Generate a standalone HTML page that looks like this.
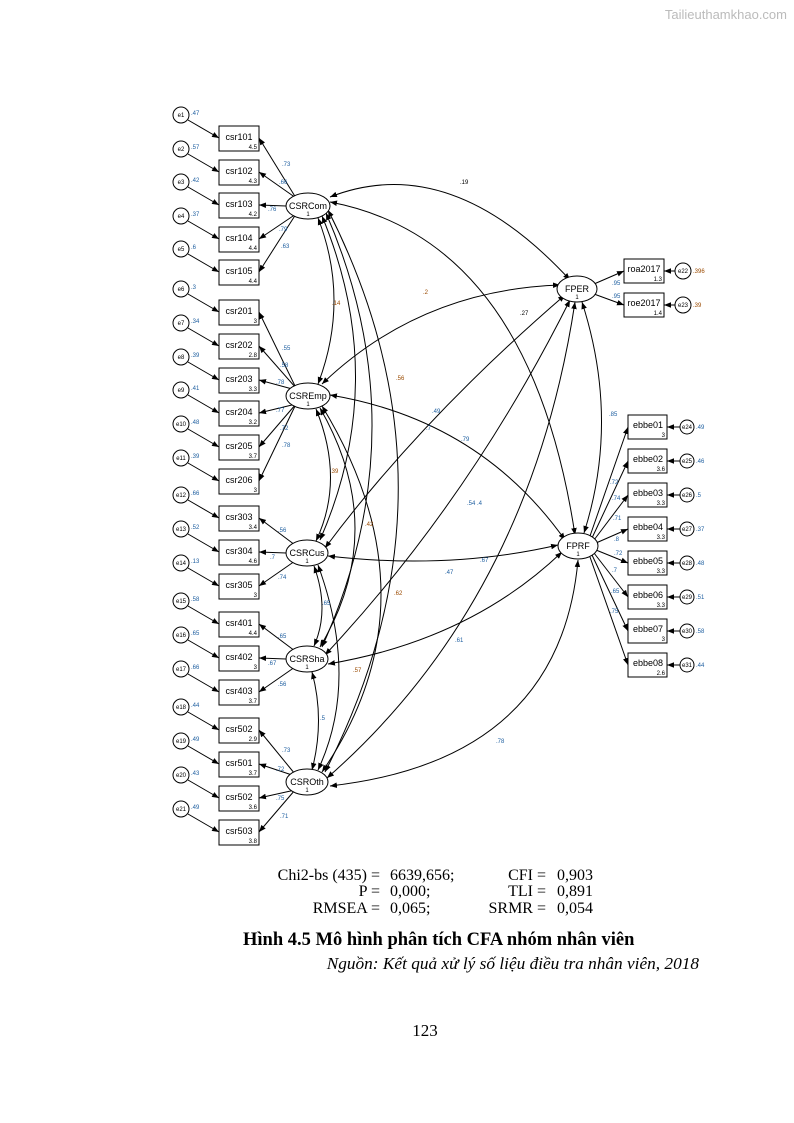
<!DOCTYPE html>
<html><head><meta charset="utf-8"><style>
body{margin:0;background:#fff}
svg{display:block}
rect,circle{fill:#fff;stroke:#000}
line{stroke:#000}
.t{font-family:"Liberation Sans",sans-serif;font-size:9px;fill:#000}
.s{font-family:"Liberation Sans",sans-serif;font-size:6px;fill:#000}
.b{fill:#1f5fa0}.o{fill:#9a4a00}
.tm{font-family:"Liberation Serif",serif;font-size:16px;fill:#000}
</style></head><body>
<svg width="794" height="1123" viewBox="0 0 794 1123" xmlns="http://www.w3.org/2000/svg">
<defs><marker id="a" viewBox="0 0 10 10" refX="10" refY="5" markerWidth="7" markerHeight="7" orient="auto-start-reverse"><path d="M0,1L10,5L0,9z" fill="#000"/></marker></defs>
<text x="787" y="19" text-anchor="end" font-family="Liberation Sans,sans-serif" font-size="13" fill="#bbb">Tailieuthamkhao.com</text>
<g fill="none" stroke="#000" stroke-width="1" marker-start="url(#a)" marker-end="url(#a)">
<path d="M330,197 Q450,150 570,280"/>
<path d="M330,202 Q530,240 575,535"/>
<path d="M318,218 Q350,300 318,384"/>
<path d="M322,216 Q390,380 320,540"/>
<path d="M326,213 Q420,430 322,647"/>
<path d="M328,210 Q470,490 325,772"/>
<path d="M322,384 Q420,290 560,285"/>
<path d="M330,395 Q480,420 565,540"/>
<path d="M316,409 Q345,480 316,541"/>
<path d="M320,408 Q390,530 320,647"/>
<path d="M322,406 Q440,600 322,772"/>
<path d="M565,295 Q420,420 325,548"/>
<path d="M570,300 Q470,500 325,655"/>
<path d="M575,302 Q530,600 327,778"/>
<path d="M314,566 Q330,610 314,646"/>
<path d="M318,565 Q360,680 318,770"/>
<path d="M312,672 Q325,720 312,770"/>
<path d="M328,556 Q450,570 558,545"/>
<path d="M328,664 Q470,640 562,552"/>
<path d="M330,786 Q560,760 578,560"/>
<path d="M582,302 Q620,420 584,533"/>
</g>
<g>
<text x="460" y="184" class="s">.19</text><text x="520" y="315" class="s">.27</text>
<text x="332" y="305" class="s o">.14</text><text x="396" y="380" class="s o">.56</text>
<text x="365" y="526" class="s o">.42</text><text x="353" y="672" class="s o">.57</text>
<text x="423" y="294" class="s o">.2</text><text x="461" y="441" class="s b">.79</text>
<text x="330" y="473" class="s o">.39</text><text x="394" y="595" class="s o">.62</text>
<text x="432" y="413" class="s b">.49</text><text x="426" y="430" class="s b">.7</text>
<text x="445" y="574" class="s b">.47</text><text x="467" y="505" class="s b">.54 .4</text>
<text x="322" y="605" class="s b">.65</text><text x="320" y="720" class="s b">.5</text>
<text x="480" y="562" class="s b">.67</text><text x="455" y="642" class="s b">.61</text>
<text x="496" y="743" class="s b">.78</text><text x="609" y="416" class="s b">.85</text>
</g>

<g transform="translate(0,126)"><rect x="219" y="0" width="40" height="25"/><text x="239" y="14" class="t" text-anchor="middle">csr101</text><text x="257" y="23" class="s" text-anchor="end">4.5</text><circle cx="181" cy="-11" r="8"/><text x="181" y="-9" class="s" text-anchor="middle">e1</text><text x="191" y="-11" class="s b">.47</text><line x1="188" y1="-6" x2="219" y2="12" marker-end="url(#a)"/></g>
<g transform="translate(0,160)"><rect x="219" y="0" width="40" height="25"/><text x="239" y="14" class="t" text-anchor="middle">csr102</text><text x="257" y="23" class="s" text-anchor="end">4.3</text><circle cx="181" cy="-11" r="8"/><text x="181" y="-9" class="s" text-anchor="middle">e2</text><text x="191" y="-11" class="s b">.57</text><line x1="188" y1="-6" x2="219" y2="12" marker-end="url(#a)"/></g>
<g transform="translate(0,193)"><rect x="219" y="0" width="40" height="25"/><text x="239" y="14" class="t" text-anchor="middle">csr103</text><text x="257" y="23" class="s" text-anchor="end">4.2</text><circle cx="181" cy="-11" r="8"/><text x="181" y="-9" class="s" text-anchor="middle">e3</text><text x="191" y="-11" class="s b">.42</text><line x1="188" y1="-6" x2="219" y2="12" marker-end="url(#a)"/></g>
<g transform="translate(0,227)"><rect x="219" y="0" width="40" height="25"/><text x="239" y="14" class="t" text-anchor="middle">csr104</text><text x="257" y="23" class="s" text-anchor="end">4.4</text><circle cx="181" cy="-11" r="8"/><text x="181" y="-9" class="s" text-anchor="middle">e4</text><text x="191" y="-11" class="s b">.37</text><line x1="188" y1="-6" x2="219" y2="12" marker-end="url(#a)"/></g>
<g transform="translate(0,260)"><rect x="219" y="0" width="40" height="25"/><text x="239" y="14" class="t" text-anchor="middle">csr105</text><text x="257" y="23" class="s" text-anchor="end">4.4</text><circle cx="181" cy="-11" r="8"/><text x="181" y="-9" class="s" text-anchor="middle">e5</text><text x="191" y="-11" class="s b">.6</text><line x1="188" y1="-6" x2="219" y2="12" marker-end="url(#a)"/></g>
<g transform="translate(0,300)"><rect x="219" y="0" width="40" height="25"/><text x="239" y="14" class="t" text-anchor="middle">csr201</text><text x="257" y="23" class="s" text-anchor="end">3</text><circle cx="181" cy="-11" r="8"/><text x="181" y="-9" class="s" text-anchor="middle">e6</text><text x="191" y="-11" class="s b">.3</text><line x1="188" y1="-6" x2="219" y2="12" marker-end="url(#a)"/></g>
<g transform="translate(0,334)"><rect x="219" y="0" width="40" height="25"/><text x="239" y="14" class="t" text-anchor="middle">csr202</text><text x="257" y="23" class="s" text-anchor="end">2.8</text><circle cx="181" cy="-11" r="8"/><text x="181" y="-9" class="s" text-anchor="middle">e7</text><text x="191" y="-11" class="s b">.34</text><line x1="188" y1="-6" x2="219" y2="12" marker-end="url(#a)"/></g>
<g transform="translate(0,368)"><rect x="219" y="0" width="40" height="25"/><text x="239" y="14" class="t" text-anchor="middle">csr203</text><text x="257" y="23" class="s" text-anchor="end">3.3</text><circle cx="181" cy="-11" r="8"/><text x="181" y="-9" class="s" text-anchor="middle">e8</text><text x="191" y="-11" class="s b">.39</text><line x1="188" y1="-6" x2="219" y2="12" marker-end="url(#a)"/></g>
<g transform="translate(0,401)"><rect x="219" y="0" width="40" height="25"/><text x="239" y="14" class="t" text-anchor="middle">csr204</text><text x="257" y="23" class="s" text-anchor="end">3.2</text><circle cx="181" cy="-11" r="8"/><text x="181" y="-9" class="s" text-anchor="middle">e9</text><text x="191" y="-11" class="s b">.41</text><line x1="188" y1="-6" x2="219" y2="12" marker-end="url(#a)"/></g>
<g transform="translate(0,435)"><rect x="219" y="0" width="40" height="25"/><text x="239" y="14" class="t" text-anchor="middle">csr205</text><text x="257" y="23" class="s" text-anchor="end">3.7</text><circle cx="181" cy="-11" r="8"/><text x="181" y="-9" class="s" text-anchor="middle">e10</text><text x="191" y="-11" class="s b">.48</text><line x1="188" y1="-6" x2="219" y2="12" marker-end="url(#a)"/></g>
<g transform="translate(0,469)"><rect x="219" y="0" width="40" height="25"/><text x="239" y="14" class="t" text-anchor="middle">csr206</text><text x="257" y="23" class="s" text-anchor="end">3</text><circle cx="181" cy="-11" r="8"/><text x="181" y="-9" class="s" text-anchor="middle">e11</text><text x="191" y="-11" class="s b">.39</text><line x1="188" y1="-6" x2="219" y2="12" marker-end="url(#a)"/></g>
<g transform="translate(0,506)"><rect x="219" y="0" width="40" height="25"/><text x="239" y="14" class="t" text-anchor="middle">csr303</text><text x="257" y="23" class="s" text-anchor="end">3.4</text><circle cx="181" cy="-11" r="8"/><text x="181" y="-9" class="s" text-anchor="middle">e12</text><text x="191" y="-11" class="s b">.66</text><line x1="188" y1="-6" x2="219" y2="12" marker-end="url(#a)"/></g>
<g transform="translate(0,540)"><rect x="219" y="0" width="40" height="25"/><text x="239" y="14" class="t" text-anchor="middle">csr304</text><text x="257" y="23" class="s" text-anchor="end">4.6</text><circle cx="181" cy="-11" r="8"/><text x="181" y="-9" class="s" text-anchor="middle">e13</text><text x="191" y="-11" class="s b">.52</text><line x1="188" y1="-6" x2="219" y2="12" marker-end="url(#a)"/></g>
<g transform="translate(0,574)"><rect x="219" y="0" width="40" height="25"/><text x="239" y="14" class="t" text-anchor="middle">csr305</text><text x="257" y="23" class="s" text-anchor="end">3</text><circle cx="181" cy="-11" r="8"/><text x="181" y="-9" class="s" text-anchor="middle">e14</text><text x="191" y="-11" class="s b">.13</text><line x1="188" y1="-6" x2="219" y2="12" marker-end="url(#a)"/></g>
<g transform="translate(0,612)"><rect x="219" y="0" width="40" height="25"/><text x="239" y="14" class="t" text-anchor="middle">csr401</text><text x="257" y="23" class="s" text-anchor="end">4.4</text><circle cx="181" cy="-11" r="8"/><text x="181" y="-9" class="s" text-anchor="middle">e15</text><text x="191" y="-11" class="s b">.58</text><line x1="188" y1="-6" x2="219" y2="12" marker-end="url(#a)"/></g>
<g transform="translate(0,646)"><rect x="219" y="0" width="40" height="25"/><text x="239" y="14" class="t" text-anchor="middle">csr402</text><text x="257" y="23" class="s" text-anchor="end">3</text><circle cx="181" cy="-11" r="8"/><text x="181" y="-9" class="s" text-anchor="middle">e16</text><text x="191" y="-11" class="s b">.65</text><line x1="188" y1="-6" x2="219" y2="12" marker-end="url(#a)"/></g>
<g transform="translate(0,680)"><rect x="219" y="0" width="40" height="25"/><text x="239" y="14" class="t" text-anchor="middle">csr403</text><text x="257" y="23" class="s" text-anchor="end">3.7</text><circle cx="181" cy="-11" r="8"/><text x="181" y="-9" class="s" text-anchor="middle">e17</text><text x="191" y="-11" class="s b">.66</text><line x1="188" y1="-6" x2="219" y2="12" marker-end="url(#a)"/></g>
<g transform="translate(0,718)"><rect x="219" y="0" width="40" height="25"/><text x="239" y="14" class="t" text-anchor="middle">csr502</text><text x="257" y="23" class="s" text-anchor="end">2.9</text><circle cx="181" cy="-11" r="8"/><text x="181" y="-9" class="s" text-anchor="middle">e18</text><text x="191" y="-11" class="s b">.44</text><line x1="188" y1="-6" x2="219" y2="12" marker-end="url(#a)"/></g>
<g transform="translate(0,752)"><rect x="219" y="0" width="40" height="25"/><text x="239" y="14" class="t" text-anchor="middle">csr501</text><text x="257" y="23" class="s" text-anchor="end">3.7</text><circle cx="181" cy="-11" r="8"/><text x="181" y="-9" class="s" text-anchor="middle">e19</text><text x="191" y="-11" class="s b">.49</text><line x1="188" y1="-6" x2="219" y2="12" marker-end="url(#a)"/></g>
<g transform="translate(0,786)"><rect x="219" y="0" width="40" height="25"/><text x="239" y="14" class="t" text-anchor="middle">csr502</text><text x="257" y="23" class="s" text-anchor="end">3.6</text><circle cx="181" cy="-11" r="8"/><text x="181" y="-9" class="s" text-anchor="middle">e20</text><text x="191" y="-11" class="s b">.43</text><line x1="188" y1="-6" x2="219" y2="12" marker-end="url(#a)"/></g>
<g transform="translate(0,820)"><rect x="219" y="0" width="40" height="25"/><text x="239" y="14" class="t" text-anchor="middle">csr503</text><text x="257" y="23" class="s" text-anchor="end">3.8</text><circle cx="181" cy="-11" r="8"/><text x="181" y="-9" class="s" text-anchor="middle">e21</text><text x="191" y="-11" class="s b">.49</text><line x1="188" y1="-6" x2="219" y2="12" marker-end="url(#a)"/></g>

<g marker-end="url(#a)">
<line x1="296" y1="198" x2="259" y2="138"/><line x1="296" y1="198" x2="259" y2="172"/><line x1="286" y1="206" x2="259" y2="205"/><line x1="296" y1="214" x2="259" y2="239"/><line x1="296" y1="214" x2="259" y2="272"/>
<line x1="296" y1="388" x2="259" y2="312"/><line x1="296" y1="388" x2="259" y2="346"/><line x1="296" y1="390" x2="259" y2="380"/><line x1="296" y1="404" x2="259" y2="413"/><line x1="296" y1="404" x2="259" y2="447"/><line x1="296" y1="404" x2="259" y2="481"/>
<line x1="295" y1="545" x2="259" y2="518"/><line x1="286" y1="553" x2="259" y2="552"/><line x1="295" y1="561" x2="259" y2="586"/>
<line x1="295" y1="651" x2="259" y2="624"/><line x1="286" y1="659" x2="259" y2="658"/><line x1="295" y1="667" x2="259" y2="692"/>
<line x1="295" y1="774" x2="259" y2="730"/><line x1="295" y1="776" x2="259" y2="764"/><line x1="295" y1="790" x2="259" y2="798"/><line x1="295" y1="790" x2="259" y2="832"/>
</g>
<g class="s b">
<text x="282" y="166">.73</text><text x="279" y="184">.66</text><text x="268" y="211">.76</text><text x="279" y="231">.79</text><text x="281" y="248">.63</text>
<text x="282" y="350">.55</text><text x="280" y="367">.58</text><text x="276" y="384">.78</text><text x="276" y="412">.77</text><text x="280" y="430">.72</text><text x="282" y="447">.78</text>
<text x="278" y="532">.56</text><text x="270" y="559">.7</text><text x="278" y="579">.74</text>
<text x="278" y="638">.65</text><text x="268" y="665">.67</text><text x="278" y="686">.56</text>
<text x="282" y="752">.73</text><text x="276" y="771">.72</text><text x="276" y="800">.75</text><text x="280" y="818">.71</text>
</g>

<g transform="translate(624,259)"><rect x="0" y="0" width="40" height="24"/><text x="20" y="13" class="t" text-anchor="middle">roa2017</text><text x="38" y="22" class="s" text-anchor="end">1.3</text><circle cx="59" cy="12" r="8"/><text x="59" y="14" class="s" text-anchor="middle">e22</text><text x="69" y="14" class="s o">.396</text><line x1="51" y1="12" x2="40" y2="12" marker-end="url(#a)"/></g>
<g transform="translate(624,293)"><rect x="0" y="0" width="40" height="24"/><text x="20" y="13" class="t" text-anchor="middle">roe2017</text><text x="38" y="22" class="s" text-anchor="end">1.4</text><circle cx="59" cy="12" r="8"/><text x="59" y="14" class="s" text-anchor="middle">e23</text><text x="69" y="14" class="s o">.39</text><line x1="51" y1="12" x2="40" y2="12" marker-end="url(#a)"/></g>
<g transform="translate(628,415)"><rect x="0" y="0" width="39" height="24"/><text x="20" y="13" class="t" text-anchor="middle">ebbe01</text><text x="37" y="22" class="s" text-anchor="end">3</text><circle cx="59" cy="12" r="7"/><text x="59" y="14" class="s" text-anchor="middle">e24</text><text x="68" y="14" class="s b">.49</text><line x1="52" y1="12" x2="39" y2="12" marker-end="url(#a)"/></g>
<g transform="translate(628,449)"><rect x="0" y="0" width="39" height="24"/><text x="20" y="13" class="t" text-anchor="middle">ebbe02</text><text x="37" y="22" class="s" text-anchor="end">3.6</text><circle cx="59" cy="12" r="7"/><text x="59" y="14" class="s" text-anchor="middle">e25</text><text x="68" y="14" class="s b">.46</text><line x1="52" y1="12" x2="39" y2="12" marker-end="url(#a)"/></g>
<g transform="translate(628,483)"><rect x="0" y="0" width="39" height="24"/><text x="20" y="13" class="t" text-anchor="middle">ebbe03</text><text x="37" y="22" class="s" text-anchor="end">3.3</text><circle cx="59" cy="12" r="7"/><text x="59" y="14" class="s" text-anchor="middle">e26</text><text x="68" y="14" class="s b">.5</text><line x1="52" y1="12" x2="39" y2="12" marker-end="url(#a)"/></g>
<g transform="translate(628,517)"><rect x="0" y="0" width="39" height="24"/><text x="20" y="13" class="t" text-anchor="middle">ebbe04</text><text x="37" y="22" class="s" text-anchor="end">3.3</text><circle cx="59" cy="12" r="7"/><text x="59" y="14" class="s" text-anchor="middle">e27</text><text x="68" y="14" class="s b">.37</text><line x1="52" y1="12" x2="39" y2="12" marker-end="url(#a)"/></g>
<g transform="translate(628,551)"><rect x="0" y="0" width="39" height="24"/><text x="20" y="13" class="t" text-anchor="middle">ebbe05</text><text x="37" y="22" class="s" text-anchor="end">3.3</text><circle cx="59" cy="12" r="7"/><text x="59" y="14" class="s" text-anchor="middle">e28</text><text x="68" y="14" class="s b">.48</text><line x1="52" y1="12" x2="39" y2="12" marker-end="url(#a)"/></g>
<g transform="translate(628,585)"><rect x="0" y="0" width="39" height="24"/><text x="20" y="13" class="t" text-anchor="middle">ebbe06</text><text x="37" y="22" class="s" text-anchor="end">3.3</text><circle cx="59" cy="12" r="7"/><text x="59" y="14" class="s" text-anchor="middle">e29</text><text x="68" y="14" class="s b">.51</text><line x1="52" y1="12" x2="39" y2="12" marker-end="url(#a)"/></g>
<g transform="translate(628,619)"><rect x="0" y="0" width="39" height="24"/><text x="20" y="13" class="t" text-anchor="middle">ebbe07</text><text x="37" y="22" class="s" text-anchor="end">3</text><circle cx="59" cy="12" r="7"/><text x="59" y="14" class="s" text-anchor="middle">e30</text><text x="68" y="14" class="s b">.58</text><line x1="52" y1="12" x2="39" y2="12" marker-end="url(#a)"/></g>
<g transform="translate(628,653)"><rect x="0" y="0" width="39" height="24"/><text x="20" y="13" class="t" text-anchor="middle">ebbe08</text><text x="37" y="22" class="s" text-anchor="end">2.6</text><circle cx="59" cy="12" r="7"/><text x="59" y="14" class="s" text-anchor="middle">e31</text><text x="68" y="14" class="s b">.44</text><line x1="52" y1="12" x2="39" y2="12" marker-end="url(#a)"/></g>

<g marker-end="url(#a)">
<line x1="594" y1="284" x2="624" y2="271"/><line x1="594" y1="294" x2="624" y2="305"/>
<line x1="590" y1="536" x2="628" y2="427"/><line x1="592" y1="538" x2="628" y2="461"/><line x1="594" y1="540" x2="628" y2="495"/><line x1="596" y1="543" x2="628" y2="529"/>
<line x1="596" y1="550" x2="628" y2="563"/><line x1="594" y1="553" x2="628" y2="597"/><line x1="592" y1="555" x2="628" y2="631"/><line x1="590" y1="557" x2="628" y2="665"/>
</g>
<g class="s b">
<text x="612" y="285">.95</text><text x="612" y="298">.95</text>
<text x="610" y="484">.72</text><text x="612" y="500">.74</text><text x="613" y="520">.71</text><text x="614" y="541">.8</text>
<text x="614" y="555">.72</text><text x="612" y="572">.7</text><text x="611" y="593">.65</text><text x="610" y="613">.75</text>
</g>

<g>
<ellipse cx="308" cy="206" rx="22" ry="13" fill="#fff" stroke="#000"/><ellipse cx="308" cy="396" rx="22" ry="13" fill="#fff" stroke="#000"/>
<ellipse cx="307" cy="553" rx="21" ry="13" fill="#fff" stroke="#000"/><ellipse cx="307" cy="659" rx="21" ry="13" fill="#fff" stroke="#000"/>
<ellipse cx="307" cy="782" rx="21" ry="13" fill="#fff" stroke="#000"/><ellipse cx="577" cy="289" rx="20" ry="13" fill="#fff" stroke="#000"/>
<ellipse cx="578" cy="546" rx="20" ry="13" fill="#fff" stroke="#000"/>
</g>
<g text-anchor="middle">
<text x="308" y="209" class="t">CSRCom</text><text x="308" y="216" class="s">1</text>
<text x="308" y="399" class="t">CSREmp</text><text x="308" y="406" class="s">1</text>
<text x="307" y="556" class="t">CSRCus</text><text x="307" y="563" class="s">1</text>
<text x="307" y="662" class="t">CSRSha</text><text x="307" y="669" class="s">1</text>
<text x="307" y="785" class="t">CSROth</text><text x="307" y="792" class="s">1</text>
<text x="577" y="292" class="t">FPER</text><text x="577" y="299" class="s">1</text>
<text x="578" y="549" class="t">FPRF</text><text x="578" y="556" class="s">1</text>
</g>

<g class="tm">
<text x="380" y="880" text-anchor="end">Chi2-bs (435) =</text><text x="390" y="880">6639,656;</text>
<text x="546" y="880" text-anchor="end">CFI =</text><text x="557" y="880">0,903</text>
<text x="380" y="896" text-anchor="end">P =</text><text x="390" y="896">0,000;</text>
<text x="546" y="896" text-anchor="end">TLI =</text><text x="557" y="896">0,891</text>
<text x="380" y="913" text-anchor="end">RMSEA =</text><text x="390" y="913">0,065;</text>
<text x="546" y="913" text-anchor="end">SRMR =</text><text x="557" y="913">0,054</text>
<text x="243" y="945" font-weight="bold" font-size="18.5">Hình 4.5 Mô hình phân tích CFA nhóm nhân viên</text>
<text x="699" y="969" text-anchor="end" font-style="italic" font-size="17.3">Nguồn: Kết quả xử lý số liệu điều tra nhân viên, 2018</text>
<text x="425" y="1036" text-anchor="middle" font-size="17">123</text>
</g>
</svg>
</body></html>
